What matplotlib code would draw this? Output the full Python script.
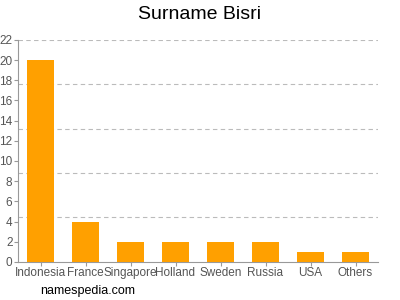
import matplotlib.pyplot as plt
import numpy as np

plt.rcParams['font.family'] = ['Liberation Sans', 'DejaVu Sans']

countries = ["Indonesia", "France", "Singapore", "Holland", "Sweden", "Russia", "USA", "Others"]
counts = [20, 4, 2, 2, 2, 2, 1, 1]
yticks = list(range(0, 23, 2))
grid_levels = [4.4, 8.8, 13.2, 17.6, 22]

fig = plt.figure(figsize=(4, 3), dpi=100)
ax = fig.add_axes([0.045, 0.127, 0.9, 0.74])

x = np.arange(len(countries))
ax.bar(x, counts, width=0.6, color="#ffa000", zorder=3)

for g in grid_levels:
    ax.axhline(g, color="#bbbbbb", linestyle=(0, (4, 3)), linewidth=0.8, zorder=1)

ax.set_xlim(-0.5, len(countries) - 0.5)
ax.set_ylim(0, 22)
ax.set_yticks(yticks)
ax.set_xticks(x)
ax.set_xticklabels(countries)
ax.tick_params(axis="both", labelsize=8.5, colors="#555555", length=3, width=0.8, pad=1)
ax.tick_params(axis="both", color="#999999")

for s in ["top", "right"]:
    ax.spines[s].set_visible(False)
for s in ["left", "bottom"]:
    ax.spines[s].set_color("#999999")
    ax.spines[s].set_linewidth(0.8)

fig.text(0.5, 0.953, "Surname Bisri", ha="center", va="center", fontsize=14)
fig.text(0.1, 0.03, "namespedia.com", ha="left", va="center", fontsize=9)

fig.savefig("out.png", dpi=100)
